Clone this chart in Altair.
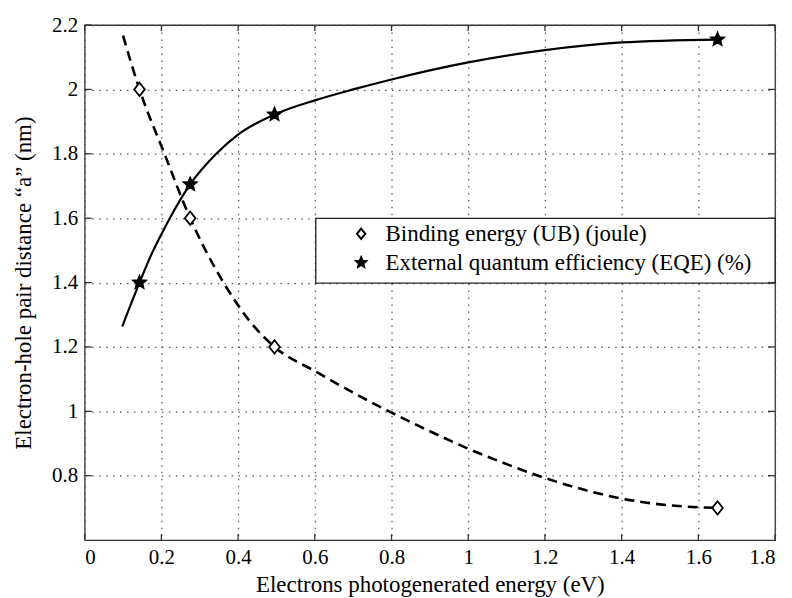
import altair as alt
import pandas as pd

# ---- data ----
series_names = ["Binding energy (UB) (joule)", "External quantum efficiency (EQE) (%)"]

# marker positions
x_pts = [0.143, 0.275, 0.495, 1.65]
ub_pts = [2.0, 1.6, 1.2, 0.70]
eqe_pts = [1.40, 1.705, 1.922, 2.155]

# fitted (smooth) curves
ub_curve_x = [0.100, 0.143, 0.208, 0.275, 0.362, 0.434, 0.495, 0.600, 0.700, 0.800,
              0.900, 1.000, 1.100, 1.200, 1.300, 1.400, 1.500, 1.600, 1.650]
ub_curve_y = [2.167, 2.000, 1.800, 1.600, 1.400, 1.275, 1.200, 1.125, 1.058, 0.996,
              0.938, 0.884, 0.836, 0.793, 0.757, 0.729, 0.711, 0.702, 0.700]

eqe_curve_x = [0.098, 0.143, 0.175, 0.200, 0.222, 0.275, 0.343, 0.399, 0.495, 0.600,
               0.700, 0.800, 1.000, 1.200, 1.400, 1.650]
eqe_curve_y = [1.264, 1.400, 1.490, 1.550, 1.600, 1.705, 1.800, 1.859, 1.922, 1.966,
               2.000, 2.031, 2.084, 2.122, 2.146, 2.155]

x_ticks = [0, 0.2, 0.4, 0.6, 0.8, 1.0, 1.2, 1.4, 1.6, 1.8]
y_ticks = [0.8, 1.0, 1.2, 1.4, 1.6, 1.8, 2.0, 2.2]

# ---- layout / style ----
W, H = 693, 517
FONT = "Liberation Serif, Times New Roman, serif"
TICK = "#333333"
diamond_path = "M0,-1L0.8,0L0,1L-0.8,0Z"
star_path = ("M0,-1L0.265,-0.364L0.951,-0.309L0.428,0.139L0.588,0.809L0,0.45"
             "L-0.588,0.809L-0.428,0.139L-0.951,-0.309L-0.265,-0.364Z")

xscale = alt.Scale(domain=[0, 1.8], nice=False, zero=False)
yscale = alt.Scale(domain=[0.6, 2.2], nice=False, zero=False)

X = alt.X("x:Q", scale=xscale,
          axis=alt.Axis(values=x_ticks, format="~g", grid=True, ticks=False, domain=False,
                        labelPadding=6, title="Electrons photogenerated energy (eV)",
                        titlePadding=7))
Y = alt.Y("y:Q", scale=yscale,
          axis=alt.Axis(values=y_ticks, format="~g", grid=True, ticks=False, domain=False,
                        labelPadding=7, title="Electron-hole pair distance \u201ca\u201d (nm)",
                        titlePadding=16))

ub_df = pd.DataFrame({"x": ub_curve_x, "y": ub_curve_y})
eqe_df = pd.DataFrame({"x": eqe_curve_x, "y": eqe_curve_y})
pts_df = pd.DataFrame({
    "x": x_pts + x_pts,
    "y": ub_pts + eqe_pts,
    "series": [series_names[0]] * len(x_pts) + [series_names[1]] * len(x_pts),
})
xt_df = pd.DataFrame({"x": x_ticks})
yt_df = pd.DataFrame({"y": y_ticks})

legend_box = alt.Chart(pd.DataFrame({"k": [0]})).mark_rect(
    fill="white", stroke="#222222", strokeWidth=1.3
).encode(x=alt.value(232), x2=alt.value(W), y=alt.value(194), y2=alt.value(259))

ub_line = alt.Chart(ub_df).mark_line(
    color="black", strokeWidth=2.6, strokeDash=[10, 6], interpolate="monotone"
).encode(x=X, y=Y)

eqe_line = alt.Chart(eqe_df).mark_line(
    color="black", strokeWidth=2.2, interpolate="monotone"
).encode(x=X, y=Y)

leg = alt.Legend(
    orient="none", legendX=266, legendY=198, title=None,
    labelFont=FONT, labelFontSize=23, labelColor="black", labelOffset=13,
    symbolSize=110, symbolStrokeWidth=2, symbolStrokeColor="black",
    rowPadding=5, padding=0, strokeColor="transparent", labelLimit=500,
)

points = alt.Chart(pts_df).mark_point(
    filled=True, strokeWidth=1.8, opacity=1, size=180
).encode(
    x=X, y=Y,
    shape=alt.Shape("series:N", scale=alt.Scale(domain=series_names,
                                                range=[diamond_path, star_path]), legend=leg),
    fill=alt.Fill("series:N", scale=alt.Scale(domain=series_names,
                                              range=["white", "black"]), legend=leg),
    stroke=alt.Stroke("series:N", scale=alt.Scale(domain=series_names,
                                                  range=["black", "black"]), legend=leg),
)

left_ticks = alt.Chart(yt_df).mark_rule(color=TICK, strokeWidth=1.3).encode(
    y=Y, x=alt.value(0), x2=alt.value(7))
right_ticks = alt.Chart(yt_df).mark_rule(color=TICK, strokeWidth=1.3).encode(
    y=Y, x=alt.value(W - 7), x2=alt.value(W))
bottom_ticks = alt.Chart(xt_df).mark_rule(color=TICK, strokeWidth=1.3).encode(
    x=X, y=alt.value(H - 6), y2=alt.value(H))
top_ticks = alt.Chart(xt_df).mark_rule(color=TICK, strokeWidth=1.3).encode(
    x=X, y=alt.value(0), y2=alt.value(6))

chart = alt.layer(
    legend_box, ub_line, eqe_line, points,
    left_ticks, right_ticks, bottom_ticks, top_ticks
).properties(
    width=W, height=H,
    padding={"left": 12, "top": 13, "right": 16, "bottom": 5},
    background="white",
).configure_view(
    stroke=TICK, strokeWidth=1.3
).configure_axis(
    labelFont=FONT, labelFontSize=21, labelColor="black",
    titleFont=FONT, titleFontSize=23, titleColor="black", titleFontWeight="normal",
    gridColor="#555555", gridDash=[1.5, 5.5], gridWidth=1.2, gridOpacity=1,
)

chart.save("out.html", embed_options={"renderer": "svg", "actions": False})
